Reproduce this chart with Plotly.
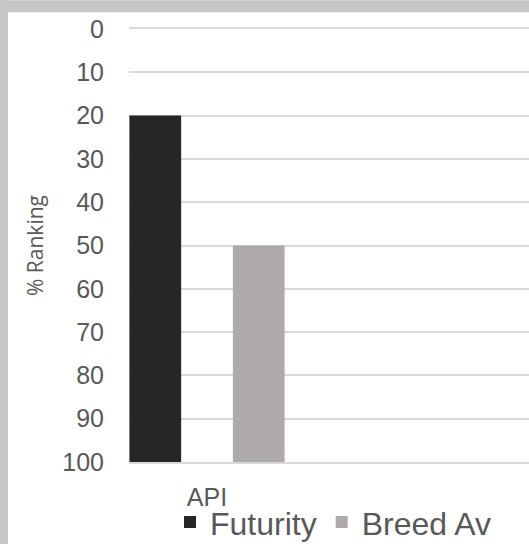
import plotly.graph_objects as go

categories = ["API"]
futurity = [20]
breed_av = [50]
series_names = ["Futurity", "Breed Av"]
tick_vals = [0, 10, 20, 30, 40, 50, 60, 70, 80, 90, 100]
axis_base = 100  # bars grow from the bottom of the reversed axis

colors = ["#262626", "#AEAAAA"]

fig = go.Figure()
for name, vals, col in zip(series_names, [futurity, breed_av], colors):
    fig.add_trace(go.Bar(
        x=categories,
        y=[v - axis_base for v in vals],
        base=[axis_base] * len(vals),
        name=name,
        marker=dict(color=col, line=dict(width=0)),
        customdata=vals,
        hovertemplate="%{customdata}<extra>" + name + "</extra>",
    ))

W, H = 529, 550
L, R, T, B = 129, 0, 29, 83
PW, PH = W - L - R, H - T - B

fig.update_layout(
    width=W, height=H,
    margin=dict(l=L, r=R, t=T, b=B, pad=0),
    paper_bgcolor="white",
    plot_bgcolor="white",
    barmode="group",
    bargap=0,
    bargroupgap=0.5,
    font=dict(family="Liberation Sans, Arial, sans-serif", color="#595959"),
    showlegend=True,
    legend=dict(
        orientation="h",
        x=0.51, xanchor="center",
        y=-(528 - (H - B)) / PH, yanchor="middle",
        font=dict(size=32, color="#595959"),
        traceorder="normal",
        bgcolor="rgba(0,0,0,0)",
    ),
    xaxis=dict(
        type="category",
        range=[-0.377, 1.556],
        showgrid=False,
        showline=True,
        mirror=True,
        linecolor="#D9D9D9",
        linewidth=2,
        ticks="",
        tickfont=dict(size=25, color="#595959"),
        ticklabelstandoff=12,
        fixedrange=True,
    ),
    yaxis=dict(
        range=[100, 0],
        tickvals=tick_vals,
        showgrid=True,
        gridcolor="#D9D9D9",
        gridwidth=2,
        zeroline=False,
        showline=False,
        ticks="",
        tickfont=dict(size=25, color="#595959"),
        ticklabelstandoff=24,
        title=dict(text="% Ranking", font=dict(size=21, color="#595959",
                                                family="Open Sans, Liberation Sans, sans-serif"),
                   standoff=12),
        fixedrange=True,
    ),
    shapes=[
        # grey frame around the chart (top and left strips)
        dict(type="rect", xref="paper", yref="paper",
             x0=-L / PW, x1=1.0, y0=(H - B - 12) / PH, y1=(H - B) / PH,
             fillcolor="#C6C6C6", line=dict(width=0), layer="below"),
        dict(type="rect", xref="paper", yref="paper",
             x0=-L / PW, x1=(8 - L) / PW, y0=-B / PH, y1=(H - B) / PH,
             fillcolor="#C6C6C6", line=dict(width=0), layer="below"),
    ],
)

fig.write_html("out.html", config={"displayModeBar": False},
               post_script="document.body.style.margin='0';document.body.style.padding='0';")
